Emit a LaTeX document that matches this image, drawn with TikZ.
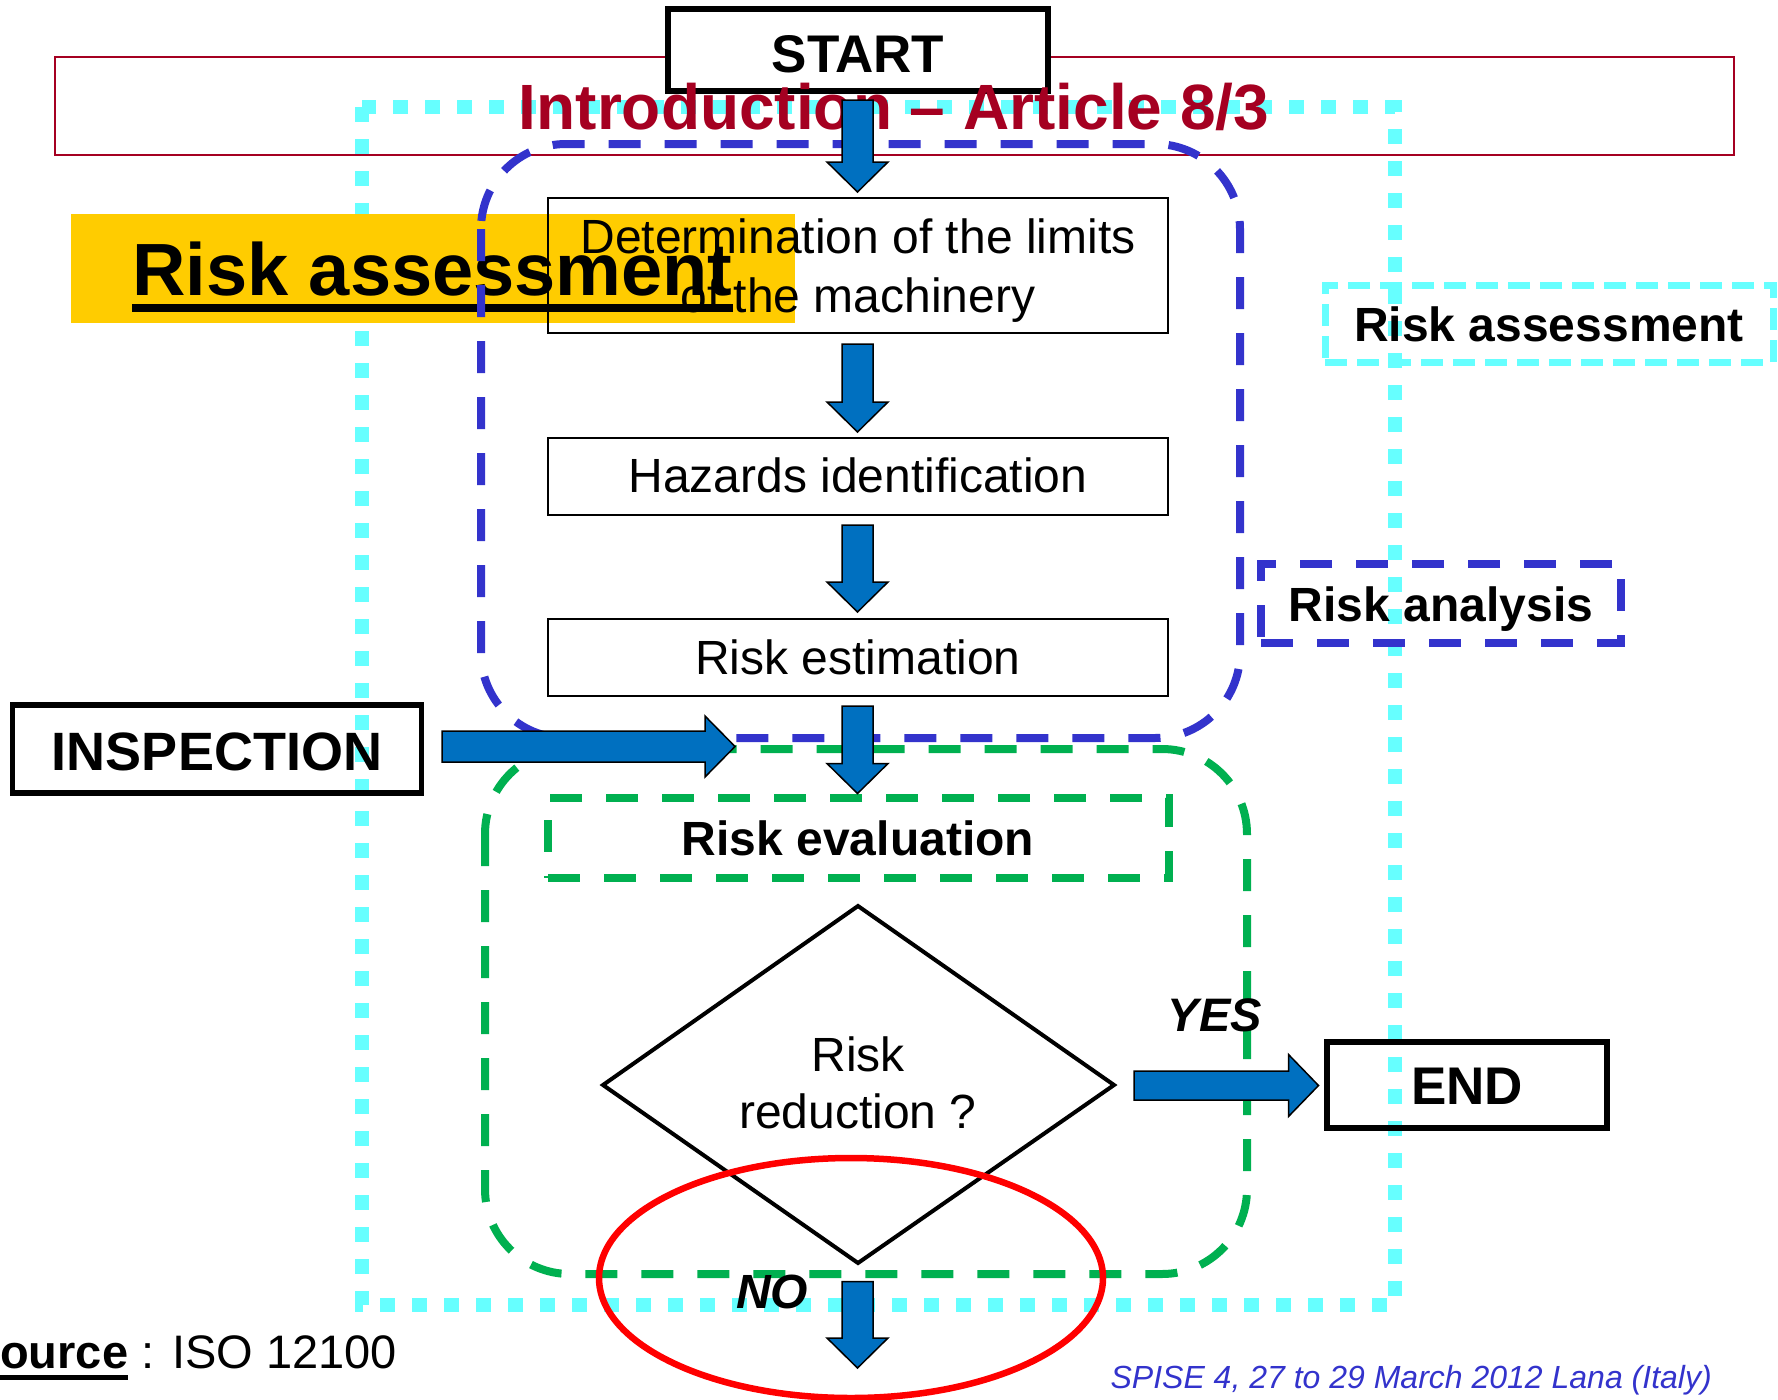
\documentclass[tikz,border=0pt]{standalone}
\usepackage{fontspec}
\setmainfont{Liberation Sans}
\definecolor{cyanc}{RGB}{102,255,255}
\definecolor{bluedashc}{RGB}{51,51,204}
\definecolor{greenc}{RGB}{0,176,80}
\definecolor{arrowblue}{RGB}{0,112,192}
\definecolor{yellowc}{RGB}{255,204,0}
\definecolor{titlered}{RGB}{165,0,33}
\definecolor{redc}{RGB}{255,0,0}
\newcommand{\myfs}[1]{\fontsize{#1}{#1}\selectfont}
% vertical block arrow: x, top, tip
\newcommand{\vdarrow}[3]{%
  \filldraw[arrowstyle] (#1-15.5,#2) -- (#1+15.5,#2) -- (#1+15.5,#3-30) -- (#1+30.5,#3-30) -- (#1,#3) -- (#1-30.5,#3-30) -- (#1-15.5,#3-30) -- cycle;}
% horizontal block arrow: y, start, tip, shaft half, head half
\newcommand{\hrarrow}[5]{%
  \filldraw[arrowstyle] (#2,#1-#4) -- (#3-30,#1-#4) -- (#3-30,#1-#5) -- (#3,#1) -- (#3-30,#1+#5) -- (#3-30,#1+#4) -- (#2,#1+#4) -- cycle;}
\tikzset{
  txt/.style={inner sep=0pt, anchor=base},
  arrowstyle/.style={fill=arrowblue, draw=black, line width=1.5pt, line join=miter},
  thinbox/.style={draw=black, line width=1.6pt, inner sep=0pt},
  thickbox/.style={draw=black, line width=5.5pt, inner sep=0pt},
  bluedash/.style={draw=bluedashc, line width=8pt, dash pattern=on 32pt off 24pt},
  greendash/.style={draw=greenc, line width=8pt, dash pattern=on 32pt off 24pt},
  cyandot/.style={draw=cyanc, line width=14pt, dash pattern=on 15pt off 17pt},
}
\begin{document}
\begin{tikzpicture}[x=1pt,y=-1pt]
\useasboundingbox (0,0) rectangle (1778,1400);

% outer cyan dotted frame
\draw[cyandot] (362,107) rectangle (1395,1305);

% title frame
\node[draw=titlered, line width=1.5pt, inner sep=0pt, minimum width=1679pt, minimum height=98pt] (frame) at (894.5,106) {};

% START box
\node[thickbox, fill=white, minimum width=380pt, minimum height=82pt] (start) at (858,50) {};
\node[txt] (starttxt) at (858,72) {\myfs{53}\bfseries START};

% title
\node[txt, text=titlered] (title) at (894,129) {\myfs{64}\bfseries Introduction – Article 8/3};

% yellow banner
\node[fill=yellowc, inner sep=0pt, minimum width=724pt, minimum height=109pt] (yellow) at (433,268.5) {};
\node[txt, anchor=base west] (ratitle) at (132,295) {\myfs{74}\bfseries Risk assessment};
\draw[line width=8pt] ([yshift=-13pt]ratitle.base west) -- ([yshift=-13pt]ratitle.base east);

% risk analysis (blue) and risk evaluation (green) frames
\draw[bluedash, rounded corners=85pt] (481,144) rectangle (1240,738);
\draw[greendash, rounded corners=85pt] (485,749) rectangle (1247,1274);

% process boxes
\node[thinbox, minimum width=620pt, minimum height=135pt] (det) at (858,265.5) {};
\node[txt] (dettxt1) at (858,253) {\myfs{48}Determination of the limits};
\node[txt] (dettxt2) at (858,312) {\myfs{48}of the machinery};

\node[thinbox, minimum width=620pt, minimum height=77pt] (haz) at (858,476.5) {};
\node[txt] (haztxt) at (858,492) {\myfs{48}Hazards identification};

\node[thinbox, minimum width=620pt, minimum height=77pt] (est) at (858,657.5) {};
\node[txt] (esttxt) at (858,674) {\myfs{48}Risk estimation};

\node[draw=greenc, line width=8pt, dash pattern=on 32pt off 24pt, inner sep=0pt, minimum width=621pt, minimum height=80pt] (eval) at (858.5,838) {};
\node[txt] (evaltxt) at (858,855) {\myfs{48}\bfseries Risk evaluation};

% side labels
\node[draw=cyanc, line width=7pt, dash pattern=on 22pt off 10pt, inner sep=0pt, minimum width=448pt, minimum height=77pt] (ralabel) at (1549,323.5) {};
\node[txt] (ralabeltxt) at (1549,341) {\myfs{48}\bfseries Risk assessment};

\node[bluedash, inner sep=0pt, minimum width=360pt, minimum height=79pt] (analabel) at (1441,603.5) {};
\node[txt] (analabeltxt) at (1441,621) {\myfs{48}\bfseries Risk analysis};

% INSPECTION and END
\node[thickbox, minimum width=409pt, minimum height=88pt] (insp) at (217,749) {};
\node[txt] (insptxt) at (217,770) {\myfs{54}\bfseries INSPECTION};

\node[thickbox, minimum width=280pt, minimum height=86pt] (endb) at (1467,1085) {};
\node[txt] (endtxt) at (1467,1104) {\myfs{53}\bfseries END};

% decision diamond
\coordinate (dl) at (603,1085);
\coordinate (dt) at (858,906);
\coordinate (dr) at (1114,1085);
\coordinate (db) at (858,1263);
\draw[line width=4pt, line join=miter] (dl) -- (dt) -- (dr) -- (db) -- cycle;
\node[txt] (dtxt1) at (858,1071) {\myfs{48}Risk};
\node[txt] (dtxt2) at (858,1128) {\myfs{48}reduction ?};

% arrows
\vdarrow{857.5}{100}{192}
\vdarrow{857.5}{344}{432}
\vdarrow{857.5}{525}{612}
\vdarrow{857.5}{706}{793.5}
\hrarrow{746.5}{442}{735}{15.5}{30.5}
\hrarrow{1085.5}{1134}{1318.5}{14.5}{31}

% YES / NO
\node[txt] (yes) at (1215,1031) {\myfs{47}\bfseries\itshape YES};
\node[txt] (no) at (772,1308) {\myfs{48}\bfseries\itshape NO};

% red ellipse
\draw[redc, line width=6.5pt] (851,1278) ellipse [x radius=252, y radius=120];
\vdarrow{857.5}{1281.6}{1368}

% source and footer
\node[txt, anchor=base west] (src1) at (0,1368) {\myfs{47}\bfseries ource};
\node[txt, anchor=base west] (src2) at (src1.base east) {\myfs{47}\ : ISO 12100};
\draw[line width=5pt] ([yshift=-9pt]src1.base west) -- ([yshift=-9pt]src1.base east);
\node[txt, anchor=base east, text=bluedashc] (footer) at (1712,1388) {\myfs{32}\itshape SPISE 4, 27 to 29 March 2012 Lana (Italy)};
\end{tikzpicture}
\end{document}
